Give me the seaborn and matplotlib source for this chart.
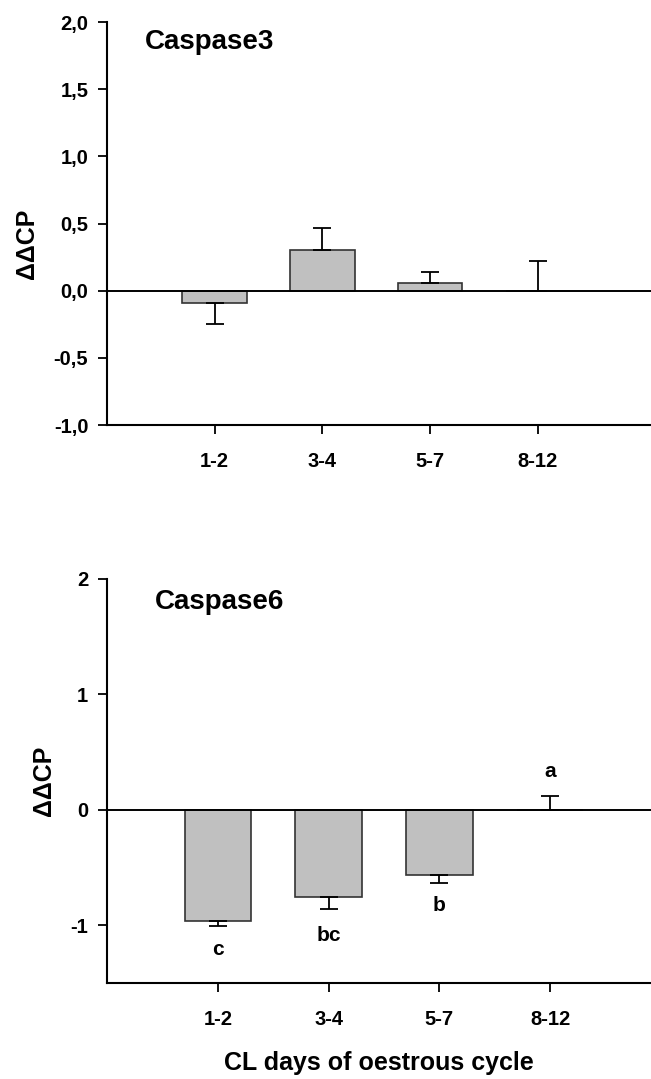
import matplotlib
matplotlib.use("Agg")
import matplotlib.pyplot as plt
import numpy as np
import pandas as pd
import seaborn as sns

# data
days = ["1-2", "3-4", "5-7", "8-12"]
casp3_mean = [-0.092, 0.305, 0.055, 0.0]
casp3_sem = [0.157, 0.16, 0.086, 0.223]
casp6_mean = [-0.968, -0.755, -0.568, 0.0]
casp6_sem = [0.041, 0.104, 0.066, 0.115]
casp6_letters = ["c", "bc", "b", "a"]
casp6_letter_y = [-1.21, -1.09, -0.83, 0.33]

casp3_yticks = [-1.0, -0.5, 0.0, 0.5, 1.0, 1.5, 2.0]
casp3_yticklabels = ["-1,0", "-0,5", "0,0", "0,5", "1,0", "1,5", "2,0"]
casp6_yticks = [-1, 0, 1, 2]
casp6_yticklabels = ["-1", "0", "1", "2"]

sns.set_style("ticks")
plt.rcParams["font.family"] = ["Liberation Sans", "DejaVu Sans"]
plt.rcParams["font.weight"] = "bold"
for key in ["text.color", "axes.labelcolor", "xtick.color", "ytick.color"]:
    plt.rcParams[key] = "black"

fig = plt.figure(figsize=(6.51, 10.79), dpi=100)
ax1 = fig.add_axes([0.1644, 0.6061, 0.8356, 0.3735])
ax2 = fig.add_axes([0.1644, 0.0892, 0.8356, 0.3742])


def draw_panel(ax, means, sems, title, title_xy, yticks, yticklabels, ylim, xright):
    df = pd.DataFrame({"day": days, "value": means})
    sns.barplot(data=df, x="day", y="value", order=days, color="#c0c0c0",
                edgecolor="#333333", linewidth=1.2, width=0.6, errorbar=None,
                saturation=1, ax=ax)
    means = np.array(means)
    sems = np.array(sems)
    lower = np.where(means < 0, sems, 0)
    upper = np.where(means < 0, 0, sems)
    ax.errorbar(np.arange(len(days)), means, yerr=[lower, upper], fmt="none",
                ecolor="black", elinewidth=1.3, capsize=6.5, capthick=1.3, zorder=3)
    ax.axhline(0, color="black", linewidth=1.4, zorder=4)
    ax.set_xlim(-1, xright)
    ax.set_ylim(*ylim)
    ax.set_yticks(yticks)
    ax.set_yticklabels(yticklabels)
    ax.set_xlabel("")
    ax.set_ylabel("ΔΔCP", fontsize=18, fontweight="bold")
    ax.tick_params(axis="both", labelsize=14.5, length=6.5, width=1.3,
                   direction="out", pad=7, color="black")
    ax.tick_params(axis="x", pad=13)
    for lab in ax.get_xticklabels() + ax.get_yticklabels():
        lab.set_fontweight("bold")
    for side in ["top", "right"]:
        ax.spines[side].set_visible(False)
    for side in ["left", "bottom"]:
        ax.spines[side].set_linewidth(1.5)
        ax.spines[side].set_color("black")
    ax.text(title_xy[0], title_xy[1], title, fontsize=20, fontweight="bold",
            ha="left", va="center")


draw_panel(ax1, casp3_mean, casp3_sem, "Caspase3",
           (-1 + (145 - 107) / 107.6, 2.0 - (42 - 22) / 134.3),
           casp3_yticks, casp3_yticklabels, (-1.0, 2.0), 4.05)
draw_panel(ax2, casp6_mean, casp6_sem, "Caspase6",
           (-1 + (155 - 107) / 110.8, 2.0 - (602 - 579) / 115.1),
           casp6_yticks, casp6_yticklabels, (-1.5, 2.0), 3.91)

for i, (lab, yy) in enumerate(zip(casp6_letters, casp6_letter_y)):
    ax2.text(i, yy, lab, fontsize=15, fontweight="bold", ha="center", va="center")

ax1.yaxis.label.set_va("center")
ax1.yaxis.set_label_coords((27 - 107) / 544, (425 - 244) / 403)
ax2.yaxis.label.set_va("center")
ax2.yaxis.set_label_coords((44 - 107) / 544, 0.5)

ax2.set_xlabel("CL days of oestrous cycle", fontsize=18, fontweight="bold",
               labelpad=16)

fig.savefig("out.png", dpi=100)
